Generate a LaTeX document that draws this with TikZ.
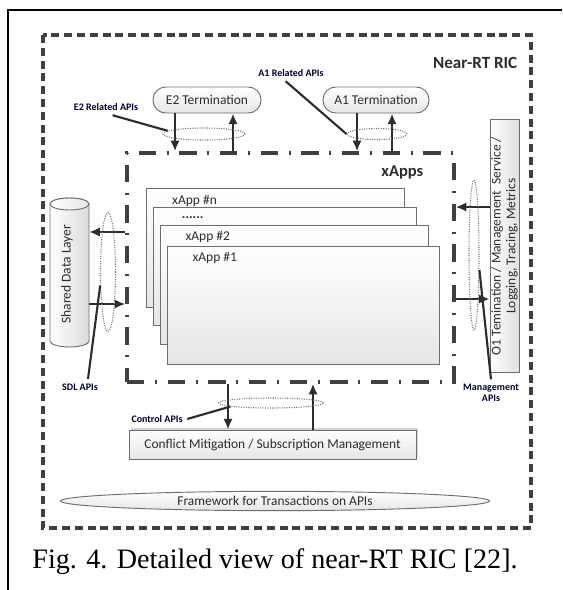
\documentclass[tikz,border=0pt]{standalone}
\usepackage{fontspec}
\setmainfont{Carlito}
\newfontfamily\capfont{Liberation Serif}
\usepackage{tikz}
\usetikzlibrary{arrows.meta,shapes.geometric,shadows,positioning}

\definecolor{ink}{RGB}{45,45,45}
\definecolor{edge}{RGB}{110,110,110}

\tikzset{
	box/.style={draw=edge, line width=0.7pt, top color=white, bottom color=black!10, text=ink, inner sep=0pt, font=\fontsize{10.1}{12}\selectfont},
	term/.style={box, rounded corners=9.5pt, minimum width=81pt, minimum height=19.5pt},
	appbox/.style={box, minimum height=89pt},
	apptxt/.style={anchor=west, text=ink, font=\fontsize{10.1}{12}\selectfont},
	ring/.style={ellipse, draw=black!55, densely dotted, line width=0.8pt, inner sep=0pt},
	api/.style={draw=ink, line width=1.6pt, -{Latex[length=8pt,width=7pt]}},
	lead/.style={draw=ink, line width=1.6pt},
	apilbl/.style={text=black!85!blue, font=\fontsize{7.5}{8.4}\selectfont\bfseries, align=center},
	ricbox/.style={draw=black!75, line width=2.6pt, dash pattern=on 6pt off 3.6pt},
	appsbox/.style={draw=black!75, line width=2.5pt, dash pattern=on 13pt off 8pt on 1.5pt off 8pt, minimum width=245.25pt, minimum height=171.75pt, inner sep=0pt}
}

\begin{document}
\begin{tikzpicture}[x=0.75pt,y=0.75pt,yscale=-1]
	\useasboundingbox (0,0) rectangle (562,590);
	
	%frame of the page
	\draw [line width=1.6pt]   (562,10) -- (8,10) -- (8,590) ;
	
	%near-rt ric
	\draw [ricbox]   (43,35) rectangle (531,528) ;
	\node [anchor=east, text=ink, font=\fontsize{12.8}{14}\selectfont\bfseries] (riclbl) at (522,63) {Near-RT RIC};
	
	%terminations
	\node [term] (e2) at (207,100) {E2 Termination};
	\node [term, minimum width=79.5pt] (a1) at (376,100) {A1 Termination};
	
	%xapps
	\node [appsbox] (xapps) at (290.5,267.5) {};
	\node [anchor=east, text=ink, font=\fontsize{12.4}{14}\selectfont\bfseries] (xappslbl) at (428,172) {xApps};
	
	\node [appbox, minimum width=193.5pt] (appn) at (275,248) {};
	\node [appbox, minimum width=197.25pt] (appd) at (284.5,266.5) {};
	\node [appbox, minimum width=201pt] (app2) at (294,285) {};
	\node [appbox, minimum width=204pt] (app1) at (303,305.5) {};
	\node [apptxt] (appnlbl) at ([xshift=16.5pt,yshift=9.5pt]appn.north west) {xApp \#n};
	\node [apptxt] (appdlbl) at ([xshift=18.5pt,yshift=8pt]appd.north west) {\textbf{......}};
	\node [apptxt] (app2lbl) at ([xshift=16pt,yshift=9pt]app2.north west) {xApp \#2};
	\node [apptxt] (app1lbl) at ([xshift=16pt,yshift=9.5pt]app1.north west) {xApp \#1};
	
	%shared data layer
	\node [minimum width=29.25pt, minimum height=111.75pt, inner sep=0pt] (sdl) at (69.5,272.5) {};
	\draw [draw=edge, line width=0.7pt, left color=white, right color=black!14]   (50,204) -- (50,341) arc [start angle=180, end angle=0, x radius=19.5, y radius=6] -- (89,204) arc [start angle=0, end angle=-180, x radius=19.5, y radius=6] -- cycle ;
	\draw [draw=edge, line width=0.7pt, left color=white, right color=black!10]   (69.5,204) ellipse [x radius=19.5, y radius=6] ;
	\node [rotate=90, text=ink, font=\fontsize{10.1}{12}\selectfont] (sdltxt) at (67,274) {Shared Data Layer};
	
	%o1 termination
	\node [box, minimum width=21.75pt, minimum height=189.75pt, left color=white, right color=black!12] (o1) at (504.5,246) {};
	\node [rotate=90, align=center, text=ink, font=\fontsize{10.1}{11.2}\selectfont] (o1txt) at (o1.center) {O1 Temination / Management\ \ Service /\\Logging, Tracing, Metrics};
	
	%conflict mitigation and framework
	\node [box, minimum width=215.25pt, minimum height=21.75pt, drop shadow={shadow xshift=1.4pt, shadow yshift=1.4pt, fill=black!35}] (cm) at (272.5,444.5) {Conflict Mitigation / Subscription Management};
	\node [box, ellipse, minimum width=321.75pt, minimum height=14.5pt] (fw) at (275,501) {Framework for Transactions on APIs};
	
	%api rows and columns
	\coordinate (e2dn) at (175,0);
	\coordinate (e2up) at (233,0);
	\coordinate (a1dn) at (357,0);
	\coordinate (a1up) at (392,0);
	\coordinate (sdlout) at (0,232);
	\coordinate (sdlin) at (0,304);
	\coordinate (o1in) at (0,207);
	\coordinate (o1out) at (0,299);
	\coordinate (cmdn) at (228,0);
	\coordinate (cmup) at (313,0);
	
	\draw [api]   (e2.south -| e2dn) -- (xapps.north -| e2dn) ;
	\draw [api]   (xapps.north -| e2up) -- (e2.south -| e2up) ;
	\draw [api]   (a1.south -| a1dn) -- (xapps.north -| a1dn) ;
	\draw [api]   (xapps.north -| a1up) -- (a1.south -| a1up) ;
	\draw [api]   (xapps.west |- sdlout) -- (sdl.east |- sdlout) ;
	\draw [api]   (sdl.east |- sdlin) -- (xapps.west |- sdlin) ;
	\draw [api]   (o1.west |- o1in) -- (xapps.east |- o1in) ;
	\draw [api]   (xapps.east |- o1out) -- (o1.west |- o1out) ;
	\draw [api]   (xapps.south -| cmdn) -- (cm.north -| cmdn) ;
	\draw [api]   (cm.north -| cmup) -- (xapps.south -| cmup) ;
	
	%api rings
	\node [ring, minimum width=61.5pt, minimum height=9pt] (e2ring) at (204,134) {};
	\node [ring, minimum width=45pt, minimum height=8.25pt] (a1ring) at (377,134) {};
	\node [ring, minimum width=11.25pt, minimum height=89.25pt] (sdlring) at (108,272) {};
	\node [ring, minimum width=7.5pt, minimum height=112.5pt] (mgmtring) at (474,255) {};
	\node [ring, minimum width=78.75pt, minimum height=7.5pt] (ctlring) at (271,403) {};
	
	%api labels
	\node [apilbl] (e2lbl) at (106,107) {E2 Related APIs};
	\node [apilbl] (a1lbl) at (291,73) {A1 Related APIs};
	\node [apilbl] (sdllbl) at (80,387) {SDL APIs};
	\node [apilbl] (mgmtlbl) at (491,393) {Management\\APIs};
	\node [apilbl] (ctllbl) at (157,419) {Control APIs};
	
	\draw [lead]   ([xshift=5pt]e2lbl.south) -- (e2ring.175) ;
	\draw [lead]   ([xshift=-4pt]a1lbl.south) -- (a1ring.180) ;
	\draw [lead]   ([xshift=6pt]sdllbl.north) -- (sdlring.240) ;
	\draw [lead]   (mgmtlbl.north) -- (mgmtring.290) ;
	\draw [lead]   (ctllbl.east) -- (ctlring.185) ;
	
	%caption
	\node [font=\capfont\fontsize{21.1}{24}\selectfont] (cap) at (275,562) {Fig. 4. Detailed view of near-RT RIC [22].};
	
\end{tikzpicture}
\end{document}
